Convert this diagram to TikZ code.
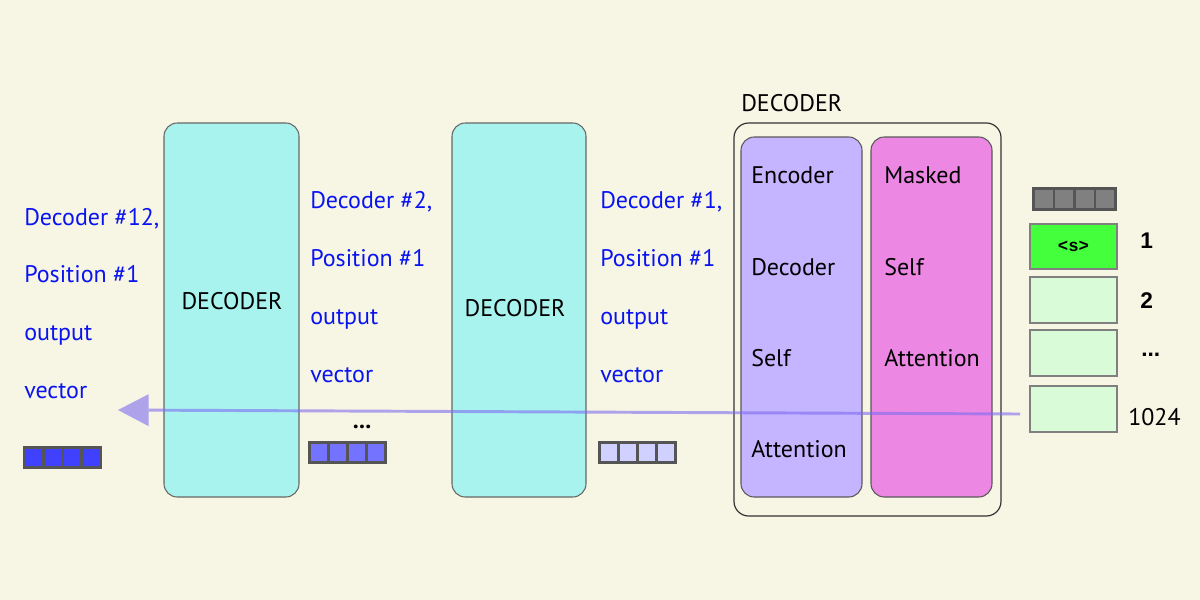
\documentclass[tikz,border=0pt]{standalone}
\usepackage{fontspec}
\setmainfont{PT Sans}
\newfontfamily\numfont{Liberation Sans}
\newfontfamily\tokfont{Liberation Mono}
\usetikzlibrary{arrows.meta}
\definecolor{bgcol}{HTML}{F7F5E3}
\definecolor{cyancol}{HTML}{A9F3EF}
\definecolor{lavcol}{HTML}{C5B4FF}
\definecolor{pinkcol}{HTML}{EC88E3}
\definecolor{greencol}{HTML}{44FF3C}
\definecolor{palegreen}{HTML}{DAFBD7}
\definecolor{bluecol}{HTML}{0A14F0}
\definecolor{arrowcol}{HTML}{7E6CF0}
\definecolor{cellgrey}{HTML}{555555}
\tikzset{
  decbox/.style={draw=black!60, fill=cyancol, rounded corners=10pt, line width=0.8pt},
  outerbox/.style={draw=black!80, fill=bgcol, rounded corners=11pt, line width=0.9pt},
  attnbox/.style={draw=black!65, rounded corners=10pt, line width=0.8pt},
  tokbox/.style={draw=black!50, line width=1pt},
  vecbox/.style={draw=cellgrey, line width=2.2pt},
  txt/.style={font=\fontsize{18}{20}\selectfont, inner sep=0pt},
  bluetxt/.style={txt, text=bluecol, anchor=base west},
  blacktxt/.style={txt, anchor=base west},
  numtxt/.style={font=\numfont\bfseries\fontsize{17}{19}\selectfont, inner sep=0pt, anchor=base west},
  flowarrow/.style={draw=arrowcol, draw opacity=0.6, fill opacity=0.6, line width=2.2pt,
    -{Triangle[length=23pt, width=24pt, line width=0pt, fill=arrowcol]}},
}
\begin{document}
\begin{tikzpicture}[x=0.75pt, y=-0.75pt]
  \fill[bgcol] (0,0) rectangle (1200,600);
  \useasboundingbox (0,0) rectangle (1200,600);
  % stacked decoders
  \draw[decbox] (164,123) rectangle (299,497);
  \draw[decbox] (452,123) rectangle (586,497);
  \node[txt, anchor=base] (dec12) at (232,309) {DECODER};
  \node[txt, anchor=base] (dec2) at (515,316) {DECODER};
  % first decoder, opened up
  \draw[outerbox] (734,123) rectangle (1001,516);
  \node[blacktxt] (declabel) at (741,111) {DECODER};
  \draw[attnbox, fill=lavcol] (741,137) rectangle (862,497);
  \draw[attnbox, fill=pinkcol] (871,137) rectangle (992,497);
  \node[blacktxt] (enc1) at (751,183) {Encoder};
  \node[blacktxt] (enc2) at (751,275) {Decoder};
  \node[blacktxt] (enc3) at (751,366) {Self};
  \node[blacktxt] (enc4) at (751,457) {Attention};
  \node[blacktxt] (mask1) at (884,183) {Masked};
  \node[blacktxt] (mask2) at (884,275) {Self};
  \node[blacktxt] (mask3) at (884,366) {Attention};
  % output labels
  \node[bluetxt] (out12a) at (24,225) {Decoder \#12,};
  \node[bluetxt] (out12b) at (24,282) {Position \#1};
  \node[bluetxt] (out12c) at (24,340) {output};
  \node[bluetxt] (out12d) at (24,398) {vector};
  \node[bluetxt] (out2a) at (310,208) {Decoder \#2,};
  \node[bluetxt] (out2b) at (310,266) {Position \#1};
  \node[bluetxt] (out2c) at (310,324) {output};
  \node[bluetxt] (out2d) at (310,382) {vector};
  \node[bluetxt] (out1a) at (600,208) {Decoder \#1,};
  \node[bluetxt] (out1b) at (600,266) {Position \#1};
  \node[bluetxt] (out1c) at (600,324) {output};
  \node[bluetxt] (out1d) at (600,382) {vector};
  % vectors
  \foreach \i in {0,...,3}
    \draw[vecbox, fill=blue!75] ({24.5+\i*19},447.5) rectangle ++(19,20);
  \foreach \i in {0,...,3}
    \draw[vecbox, fill=blue!55] ({309.5+\i*19},442.5) rectangle ++(19,20);
  \foreach \i in {0,...,3}
    \draw[vecbox, fill=blue!18] ({599.5+\i*19},442.5) rectangle ++(19,20);
  \foreach \i in {0,...,3}
    \draw[vecbox, fill=black!50] ({1033.5+\i*20.5},188.5) rectangle ++(20.5,21);
  \node[txt, font=\bfseries\fontsize{18}{20}\selectfont, anchor=base] (dots2) at (362,428) {...};
  % input tokens
  \draw[tokbox, fill=greencol] (1030,224) rectangle (1117,269);
  \draw[tokbox, fill=palegreen] (1030,277) rectangle (1117,323);
  \draw[tokbox, fill=palegreen] (1030,330) rectangle (1117,376);
  \draw[tokbox, fill=palegreen] (1030,386) rectangle (1117,432);
  \node[font=\tokfont\bfseries\fontsize{13}{15}\selectfont, inner sep=0pt] (tok1) at (1073.5,246.5) {<s>};
  \node[numtxt] (pos1) at (1140,248) {1};
  \node[numtxt] (pos2) at (1140,308) {2};
  \node[numtxt] (posdots) at (1141,356) {...};
  \node[txt, anchor=base west] (poslast) at (1128,425) {1024};
  % flow
  \coordinate (flowstart) at (1020,414);
  \coordinate (flowend) at (118,410);
  \draw[flowarrow] (flowstart) -- (flowend);
\end{tikzpicture}
\end{document}
